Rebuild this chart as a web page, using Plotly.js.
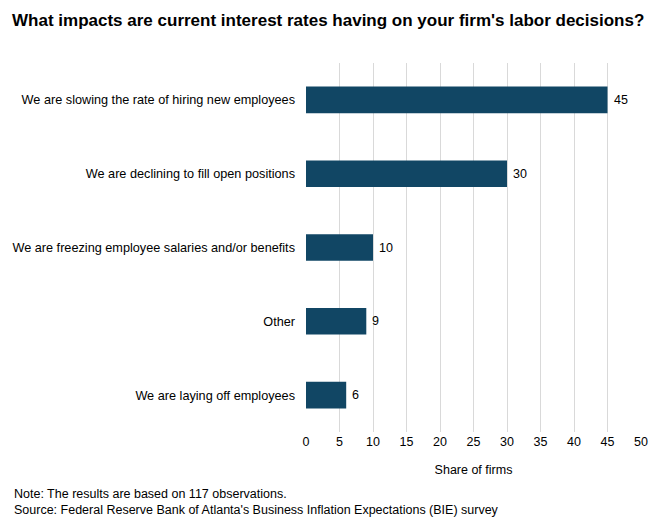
<!DOCTYPE html>
<html>
<head>
<meta charset="utf-8">
<script src="https://cdn.plot.ly/plotly-3.0.1.min.js"></script>
<style>
  html, body { margin: 0; padding: 0; background: #ffffff; }
  #chart { width: 671px; height: 524px; }
</style>
</head>
<body>
<div id="chart"></div>
<script>
// Survey responses, top to bottom
const categories = [
  "We are slowing the rate of hiring new employees",
  "We are declining to fill open positions",
  "We are freezing employee salaries and/or benefits",
  "Other",
  "We are laying off employees"
];
const shares = [45, 30, 10, 9, 6];
const xTicks = [0, 5, 10, 15, 20, 25, 30, 35, 40, 45, 50];

const font = "Liberation Sans, Arial, sans-serif";
const barColor = "#114664";

const trace = {
  type: "bar",
  orientation: "h",
  x: shares,
  y: categories,
  marker: { color: barColor },
  width: 0.36,
  hoverinfo: "x+y"
};

// value labels placed just right of each bar end
const valueLabels = shares.map((v, i) => ({
  x: v,
  y: categories[i],
  xref: "x",
  yref: "y",
  text: String(v),
  showarrow: false,
  xanchor: "left",
  yanchor: "middle",
  xshift: 4,
  font: { family: font, size: 12.5, color: "#000000" }
}));

const layout = {
  width: 671,
  height: 524,
  margin: { l: 306, r: 30, t: 63, b: 92 },
  paper_bgcolor: "#ffffff",
  plot_bgcolor: "#ffffff",
  font: { family: font, size: 12, color: "#000000" },
  showlegend: false,
  title: {
    text: "<b>What impacts are current interest rates having on your firm's labor decisions?</b>",
    x: 0.018,
    xanchor: "left",
    y: 0.962,
    yanchor: "middle",
    font: { family: font, size: 17, color: "#000000" }
  },
  xaxis: {
    range: [0, 50],
    tickvals: xTicks,
    ticktext: xTicks.map(String),
    showgrid: true,
    gridcolor: "#d9d9d9",
    gridwidth: 1,
    zeroline: false,
    showline: false,
    ticks: "",
    tickfont: { family: font, size: 12.5, color: "#000000" },
    title: {
      text: "Share of firms",
      standoff: 17,
      font: { family: font, size: 12.5, color: "#000000" }
    },
    fixedrange: true
  },
  yaxis: {
    type: "category",
    categoryorder: "array",
    categoryarray: categories,
    autorange: "reversed",
    showgrid: false,
    zeroline: false,
    showline: false,
    ticks: "",
    ticklabelstandoff: 10,
    tickfont: { family: font, size: 12.7, color: "#000000" },
    fixedrange: true
  },
  annotations: valueLabels.concat([
    {
      xref: "paper",
      yref: "paper",
      x: -294 / 335,
      y: -0.143,
      xanchor: "left",
      yanchor: "top",
      align: "left",
      showarrow: false,
      text: "Note: The results are based on 117 observations.<br>Source: Federal Reserve Bank of Atlanta's Business Inflation Expectations (BIE) survey",
      font: { family: font, size: 12.5, color: "#000000" }
    }
  ])
};

Plotly.newPlot("chart", [trace], layout, { displayModeBar: false, staticPlot: true });
</script>
</body>
</html>
